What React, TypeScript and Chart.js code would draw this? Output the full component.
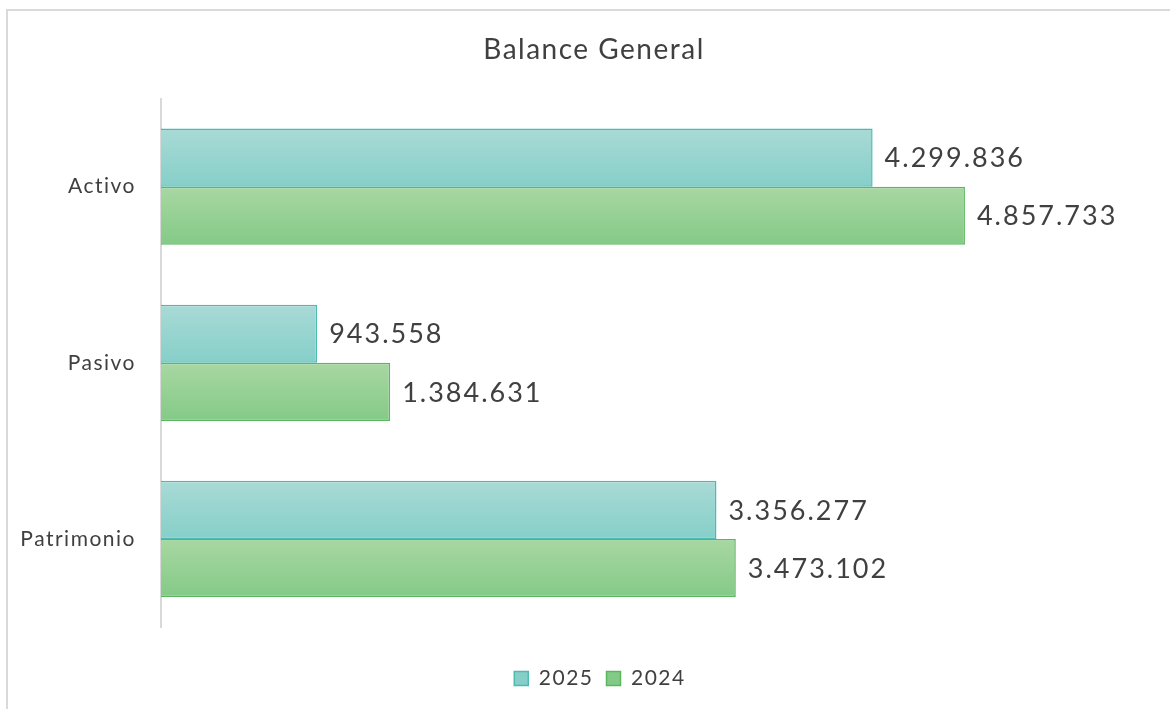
import React, { useEffect, useRef } from "react";
import { Chart, registerables } from "chart.js";

Chart.register(...registerables);

const categories = ["Activo", "Pasivo", "Patrimonio"];
const seriesNames = ["2025", "2024"];
const values2025 = [4299836, 943558, 3356277];
const values2024 = [4857733, 1384631, 3473102];
const xMax = 6000000;

const W = 1170;
const H = 709;
const FONT = "Lato, 'Open Sans', sans-serif";
const TEXT = "#404040";
const CAT_PCT = 0.66;
const LEGEND_SHIFT = 23;
const TITLE_SHIFT = 17;

const palette = [
  { top: "#a9dad6", bottom: "#86cfc9", solid: "#a3d8d4", border: "#4dbab2" },
  { top: "#a8d7a2", bottom: "#84ca87", solid: "#a2d49d", border: "#5bb75f" },
];

function fmt(n: number): string {
  return String(Math.round(n)).replace(/\B(?=(\d{3})+(?!\d))/g, ".");
}

const spacing = {
  id: "spacing",
  beforeLayout(chart: any) {
    chart.ctx.letterSpacing = "1.5px";
  },
  afterLayout(chart: any) {
    const lg = chart.legend;
    if (lg) {
      lg.left += LEGEND_SHIFT;
      lg.right += LEGEND_SHIFT;
    }
    const tb = chart.titleBlock;
    if (tb) {
      tb.left += TITLE_SHIFT;
      tb.right += TITLE_SHIFT;
    }
  },
  beforeDraw(chart: any) {
    chart.ctx.letterSpacing = "1.5px";
  },
};

const dataLabels = {
  id: "dataLabels",
  afterDatasetsDraw(chart: any) {
    const ctx = chart.ctx;
    ctx.save();
    ctx.letterSpacing = "2px";
    ctx.font = `27px ${FONT}`;
    ctx.fillStyle = TEXT;
    ctx.textAlign = "left";
    ctx.textBaseline = "middle";
    chart.data.datasets.forEach((ds: any, di: number) => {
      const meta = chart.getDatasetMeta(di);
      meta.data.forEach((bar: any, i: number) => {
        ctx.fillText(fmt(ds.data[i]), bar.x + 12, bar.y + 1);
      });
    });
    ctx.restore();
  },
};

function makeBg(di: number) {
  return (c: any) => {
    const p = palette[di];
    const chart = c.chart;
    const ys = chart.scales && chart.scales.y;
    if (c.dataIndex === undefined || !chart.chartArea || !ys) return p.solid;
    const center = ys.getPixelForValue(c.dataIndex);
    const step = Math.abs(ys.getPixelForValue(1) - ys.getPixelForValue(0));
    const half = (step * CAT_PCT) / 2;
    const top = di === 0 ? center - half : center;
    const bottom = di === 0 ? center : center + half;
    if (!isFinite(top) || !isFinite(bottom) || bottom <= top) return p.solid;
    const g = chart.ctx.createLinearGradient(0, top, 0, bottom);
    g.addColorStop(0, p.top);
    g.addColorStop(1, p.bottom);
    return g;
  };
}

export default function App() {
  const ref = useRef<HTMLCanvasElement | null>(null);

  useEffect(() => {
    let chart: Chart | null = null;
    let cancelled = false;
    const build = () => {
      if (cancelled || !ref.current) return;
      chart = new Chart(ref.current, {
        type: "bar",
        data: {
          labels: categories,
          datasets: [
            {
              label: seriesNames[0],
              data: values2025,
              backgroundColor: makeBg(0) as any,
              borderColor: palette[0].border,
              borderWidth: 1.5,
            },
            {
              label: seriesNames[1],
              data: values2024,
              backgroundColor: makeBg(1) as any,
              borderColor: palette[1].border,
              borderWidth: 1.5,
            },
          ],
        },
        options: {
          indexAxis: "y",
          responsive: false,
          animation: false,
          devicePixelRatio: 1,
          layout: { padding: { left: 0, right: 16, top: 0, bottom: 10 } },
          datasets: {
            bar: { categoryPercentage: CAT_PCT, barPercentage: 1 },
          },
          scales: {
            x: {
              min: 0,
              max: xMax,
              display: true,
              grid: { display: false },
              border: { display: false },
              ticks: { display: false },
              afterFit: (s: any) => {
                s.height = 28;
              },
            },
            y: {
              grid: { display: false },
              border: { display: true, color: "#d9d9d9", width: 2 },
              ticks: {
                color: TEXT,
                padding: 17,
                font: { family: FONT, size: 21 },
              },
              afterFit: (s: any) => {
                s.width = 161;
              },
            },
          },
          plugins: {
            title: {
              display: true,
              text: "Balance General",
              color: TEXT,
              font: { family: FONT, size: 28, weight: "normal" },
              padding: { top: 33, bottom: 32 },
            },
            legend: {
              position: "bottom",
              labels: {
                color: TEXT,
                font: { family: FONT, size: 21 },
                boxWidth: 14,
                boxHeight: 14,
                padding: 13,
              },
            },
            tooltip: { enabled: false },
          },
        },
        plugins: [spacing, dataLabels],
      });
    };
    const fontsApi = (document as any).fonts;
    if (fontsApi && fontsApi.load) {
      Promise.all([
        fontsApi.load(`27px Lato`),
        fontsApi.load(`21px Lato`),
      ])
        .catch(() => null)
        .then(build);
    } else {
      build();
    }
    return () => {
      cancelled = true;
      if (chart) chart.destroy();
    };
  }, []);

  return (
    <div
      style={{
        position: "fixed",
        left: 0,
        top: 0,
        width: W,
        height: H,
        overflow: "hidden",
        background: "#ffffff",
      }}
    >
      <div
        style={{
          position: "absolute",
          left: 6,
          top: 9,
          width: W + 50,
          height: H + 50,
          borderTop: "2px solid #dadada",
          borderLeft: "2px solid #dadada",
          boxSizing: "border-box",
        }}
      />
      <canvas
        ref={ref}
        width={W}
        height={H}
        style={{ position: "absolute", left: 0, top: 0, display: "block" }}
      />
    </div>
  );
}
